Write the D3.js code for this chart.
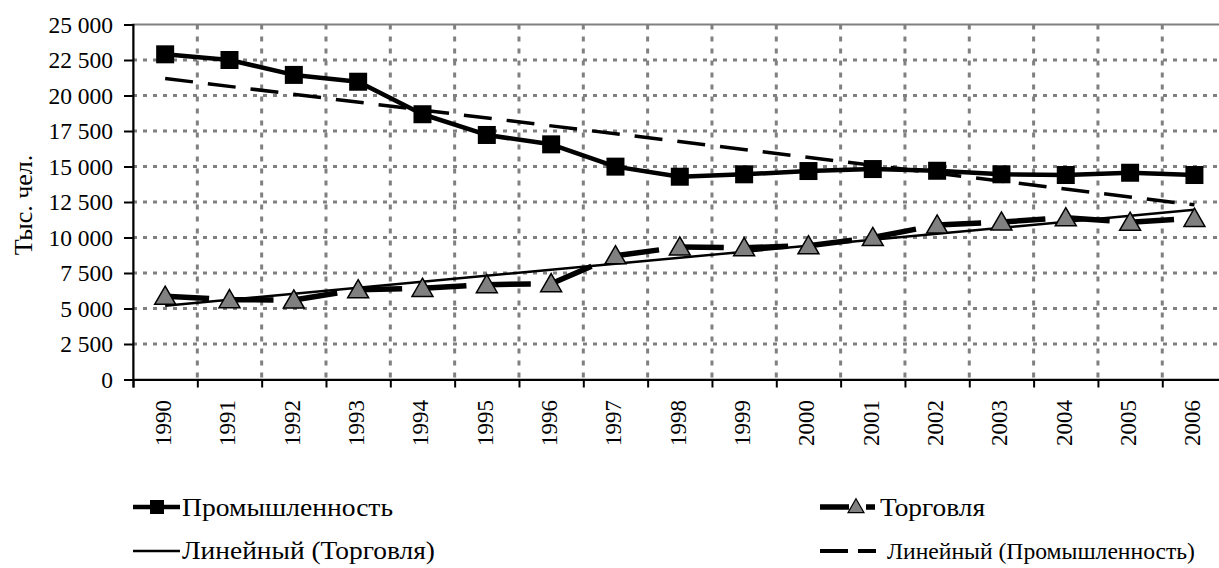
<!DOCTYPE html>
<html>
<head>
<meta charset="utf-8">
<script src="https://cdn.jsdelivr.net/npm/d3@7"></script>
<style>
  body { margin: 0; background: #fff; }
  svg text { font-family: "Liberation Serif", "DejaVu Serif", "Times New Roman", serif !important; fill: #000; }
</style>
</head>
<body>
<div id="chart"></div>
<script>
// данные
const years = ["1990", "1991", "1992", "1993", "1994", "1995", "1996", "1997", "1998",
               "1999", "2000", "2001", "2002", "2003", "2004", "2005", "2006"];
const industry = [22900, 22500, 21450, 20970, 18680, 17220, 16560, 14990, 14280,
                  14450, 14680, 14820, 14700, 14450, 14400, 14560, 14400];
const trade = [5860, 5620, 5600, 6320, 6420, 6680, 6750, 8710, 9330,
               9280, 9420, 10000, 10880, 11090, 11390, 11070, 11350];
// линии тренда (значения в 1990 и 2006)
const trendYears = ["1990", "2006"];
const trendIndustry = [21200, 12300];
const trendTrade = [5200, 11950];
const yTicks = [0, 2500, 5000, 7500, 10000, 12500, 15000, 17500, 20000, 22500, 25000];

const W = 1219, H = 568;
const pLeft = 133, pRight = 1226.6, pTop = 24.5, pBottom = 379.5;

const svg = d3.select("#chart").append("svg")
    .attr("width", W)
    .attr("height", H);

const x = d3.scaleBand().domain(years).range([pLeft, pRight]);
const xb = d3.scaleLinear().domain([0, years.length]).range([pLeft, pRight]);
const y = d3.scaleLinear().domain([0, 25000]).range([pBottom, pTop]);
const cx = d => x(d) + x.bandwidth() / 2;

// сетка
svg.append("g")
   .selectAll("line")
   .data(yTicks.slice(1, -1))
   .enter().append("line")
   .attr("x1", pLeft).attr("x2", pRight)
   .attr("y1", d => y(d)).attr("y2", d => y(d))
   .attr("stroke", "#808080")
   .attr("stroke-width", 3)
   .attr("stroke-dasharray", "4 6");

svg.append("g")
   .selectAll("line")
   .data(d3.range(1, years.length))
   .enter().append("line")
   .attr("x1", d => xb(d)).attr("x2", d => xb(d))
   .attr("y1", pTop).attr("y2", pBottom)
   .attr("stroke", "#808080")
   .attr("stroke-width", 3)
   .attr("stroke-dasharray", "5 7");

svg.append("rect")
   .attr("x", pLeft).attr("y", pTop)
   .attr("width", pRight - pLeft).attr("height", pBottom - pTop)
   .attr("fill", "none")
   .attr("stroke", "#808080")
   .attr("stroke-width", 2);

// оси
const fmt = d => d3.format(",")(d).replace(/,/g, " ");

const yAxis = svg.append("g")
    .attr("transform", `translate(${pLeft},0)`)
    .call(d3.axisLeft(y).tickValues(yTicks).tickSize(9).tickPadding(11).tickFormat(fmt));
yAxis.selectAll("text")
     .attr("font-size", "23.5px");

const xAxis = svg.append("g")
    .attr("transform", `translate(0,${pBottom})`)
    .call(d3.axisBottom(xb).tickValues(d3.range(0, years.length + 1)).tickSize(8).tickFormat(""));

svg.selectAll(".domain").attr("stroke", "#000").attr("stroke-width", 2);
svg.selectAll(".tick line").attr("stroke", "#000").attr("stroke-width", 2);

// подписи лет
svg.append("g")
   .selectAll("text")
   .data(years)
   .enter().append("text")
   .attr("transform", d => `translate(${cx(d) + 6},400) rotate(-90)`)
   .attr("text-anchor", "end")
   .attr("font-size", "23px")
   .text(d => d);

// подпись оси
svg.append("text")
   .attr("transform", "translate(32,205) rotate(-90)")
   .attr("text-anchor", "middle")
   .attr("font-size", "26px")
   .text("Тыс. чел.");

// линии тренда
svg.append("line")
   .attr("x1", cx(trendYears[0])).attr("y1", y(trendTrade[0]))
   .attr("x2", cx(trendYears[1])).attr("y2", y(trendTrade[1]))
   .attr("stroke", "#000")
   .attr("stroke-width", 2.5);

svg.append("line")
   .attr("x1", cx(trendYears[0])).attr("y1", y(trendIndustry[0]))
   .attr("x2", cx(trendYears[1])).attr("y2", y(trendIndustry[1]))
   .attr("stroke", "#000")
   .attr("stroke-width", 3.5)
   .attr("stroke-dasharray", "28 15");

// Торговля — пунктир по отрезкам
for (let i = 0; i < years.length - 1; i++) {
    svg.append("line")
       .attr("x1", cx(years[i])).attr("y1", y(trade[i]))
       .attr("x2", cx(years[i + 1])).attr("y2", y(trade[i + 1]))
       .attr("stroke", "#000")
       .attr("stroke-width", 5.5)
       .attr("stroke-dasharray", "44 100");
}

// Промышленность
const line = d3.line()
    .x((d, i) => cx(years[i]))
    .y(d => y(d));

svg.append("path")
   .datum(industry)
   .attr("d", line)
   .attr("fill", "none")
   .attr("stroke", "#000")
   .attr("stroke-width", 4.5)
   .attr("stroke-linejoin", "round");

const tri = d3.symbol().type(d3.symbolTriangle).size(190);

svg.append("g")
   .selectAll("path")
   .data(trade)
   .enter().append("path")
   .attr("d", tri)
   .attr("transform", (d, i) => `translate(${cx(years[i])},${y(d) + 2})`)
   .attr("fill", "#808080")
   .attr("stroke", "#000")
   .attr("stroke-width", 1.5);

svg.append("g")
   .selectAll("rect")
   .data(industry)
   .enter().append("rect")
   .attr("x", (d, i) => cx(years[i]) - 9)
   .attr("y", d => y(d) - 9)
   .attr("width", 18).attr("height", 18)
   .attr("fill", "#000");

// легенда
const lg = svg.append("g").attr("font-size", "26px");

lg.append("line")
  .attr("x1", 133).attr("x2", 180).attr("y1", 507).attr("y2", 507)
  .attr("stroke", "#000").attr("stroke-width", 4.5);
lg.append("rect")
  .attr("x", 150).attr("y", 500).attr("width", 14).attr("height", 14)
  .attr("fill", "#000");
lg.append("text").attr("x", 182).attr("y", 516)
  .attr("textLength", 211).attr("lengthAdjust", "spacingAndGlyphs")
  .text("Промышленность");

lg.append("line")
  .attr("x1", 820).attr("x2", 875).attr("y1", 507).attr("y2", 507)
  .attr("stroke", "#000").attr("stroke-width", 5.5)
  .attr("stroke-dasharray", "29 17");
lg.append("path")
  .attr("d", d3.symbol().type(d3.symbolTriangle).size(110))
  .attr("transform", "translate(856,508)")
  .attr("fill", "#808080").attr("stroke", "#000").attr("stroke-width", 1.2);
lg.append("text").attr("x", 880).attr("y", 516)
  .attr("textLength", 105).attr("lengthAdjust", "spacingAndGlyphs")
  .text("Торговля");

lg.append("line")
  .attr("x1", 133).attr("x2", 180).attr("y1", 551).attr("y2", 551)
  .attr("stroke", "#000").attr("stroke-width", 2.5);
lg.append("text").attr("x", 182).attr("y", 559)
  .attr("textLength", 253).attr("lengthAdjust", "spacingAndGlyphs")
  .text("Линейный (Торговля)");

lg.append("line")
  .attr("x1", 820).attr("x2", 876).attr("y1", 551).attr("y2", 551)
  .attr("stroke", "#000").attr("stroke-width", 4)
  .attr("stroke-dasharray", "28 10");
lg.append("text").attr("x", 887).attr("y", 559)
  .attr("font-size", "24px")
  .attr("textLength", 308).attr("lengthAdjust", "spacingAndGlyphs")
  .text("Линейный (Промышленность)");
</script>
</body>
</html>
